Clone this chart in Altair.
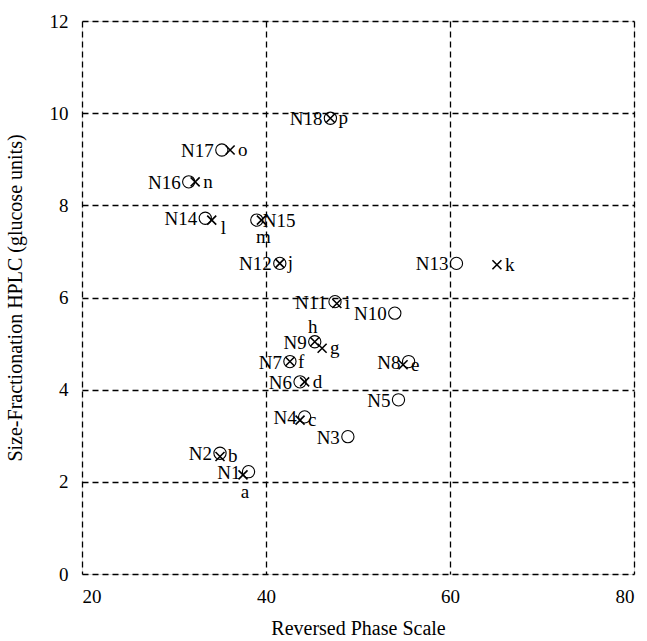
import altair as alt
import pandas as pd

# Circles (N labels)
n_names = ["N1", "N2", "N3", "N4", "N5", "N6", "N7", "N8", "N9", "N10",
           "N11", "N12", "N13", "N14", "N15", "N16", "N17", "N18"]
n_x = [38.1, 35.0, 48.9, 44.2, 54.4, 43.7, 42.6, 55.5, 45.3, 54.0,
       47.5, 41.5, 60.7, 33.4, 39.0, 31.6, 35.2, 47.0]
n_y = [2.22, 2.62, 2.98, 3.41, 3.78, 4.17, 4.61, 4.61, 5.04, 5.66,
       5.91, 6.74, 6.74, 7.72, 7.68, 8.51, 9.20, 9.89]
n_pos = ["left"] * 14 + ["right"] + ["left"] * 3

# Crosses (letter labels)
c_names = list("abcdefghijklmnop")
c_x = [37.5, 35.0, 43.7, 44.2, 54.9, 42.6, 46.1, 45.3, 47.7, 41.5,
       65.1, 34.1, 39.5, 32.3, 36.1, 47.0]
c_y = [2.15, 2.55, 3.34, 4.17, 4.54, 4.61, 4.90, 5.04, 5.87, 6.74,
       6.71, 7.68, 7.68, 8.51, 9.20, 9.89]
c_pos = ["below", "right", "right", "right", "right", "right", "right", "above",
         "right", "right", "right", "lowright", "below", "right", "right", "right"]

FONT = "Liberation Serif"

circles = pd.DataFrame({"x": n_x, "y": n_y, "label": n_names, "pos": n_pos})
crosses = pd.DataFrame({"x": c_x, "y": c_y, "label": c_names, "pos": c_pos})

xs = alt.Scale(domain=[20, 80], nice=False, zero=False)
ys = alt.Scale(domain=[0, 12], nice=False, zero=False)

x_enc = alt.X("x:Q", scale=xs, axis=alt.Axis(
    title="Reversed Phase Scale", values=[20, 40, 60, 80], grid=True,
    gridDash=[6, 4], gridColor="black", gridWidth=1.3, gridOpacity=1,
    domain=False, ticks=False, labelFont=FONT, labelFontSize=19,
    labelColor="black", labelPadding=13, titleFont=FONT, titleFontSize=20,
    titleFontWeight="normal", titleColor="black", titlePadding=12))
y_enc = alt.Y("y:Q", scale=ys, axis=alt.Axis(
    title="Size-Fractionation HPLC (glucose units)", values=[0, 2, 4, 6, 8, 10, 12],
    grid=True, gridDash=[6, 4], gridColor="black", gridWidth=1.3, gridOpacity=1,
    domain=False, ticks=False, labelFont=FONT, labelFontSize=19,
    labelColor="black", labelPadding=14, titleFont=FONT, titleFontSize=20,
    titleFontWeight="normal", titleColor="black", titlePadding=24))

base_c = alt.Chart(circles)
base_x = alt.Chart(crosses)

circ = base_c.mark_point(shape="circle", size=150, filled=False, color="black",
                         strokeWidth=1.1, opacity=1).encode(x=x_enc, y=y_enc)
xmark = base_x.mark_point(shape="M-1,-1L1,1M-1,1L1,-1", size=81, filled=False,
                          color="black", strokeWidth=1.6, opacity=1).encode(
    x=alt.X("x:Q", scale=xs), y=alt.Y("y:Q", scale=ys))


def lab(base, pos, align, dx, dy, baseline="middle"):
    return base.transform_filter(alt.datum.pos == pos).mark_text(
        font=FONT, fontSize=19, color="black", align=align, dx=dx, dy=dy,
        baseline=baseline).encode(x=alt.X("x:Q", scale=xs), y=alt.Y("y:Q", scale=ys),
                                  text="label:N")


layers = [
    circ, xmark,
    lab(base_c, "left", "right", -8, 1),
    lab(base_c, "right", "left", 6, 1),
    lab(base_x, "right", "left", 8, 0),
    lab(base_x, "lowright", "left", 9, 8),
    lab(base_x, "below", "center", 2, 17),
    lab(base_x, "above", "center", -2, -15),
]

chart = alt.layer(*layers).properties(
    width=552, height=553,
    autosize=alt.AutoSizeParams(type="none"),
    padding={"left": 82, "top": 21, "right": 13, "bottom": 67},
).configure_view(stroke="black", strokeWidth=2.5).configure(background="white")

chart.save("out.html", embed_options={"renderer": "svg", "actions": False})
